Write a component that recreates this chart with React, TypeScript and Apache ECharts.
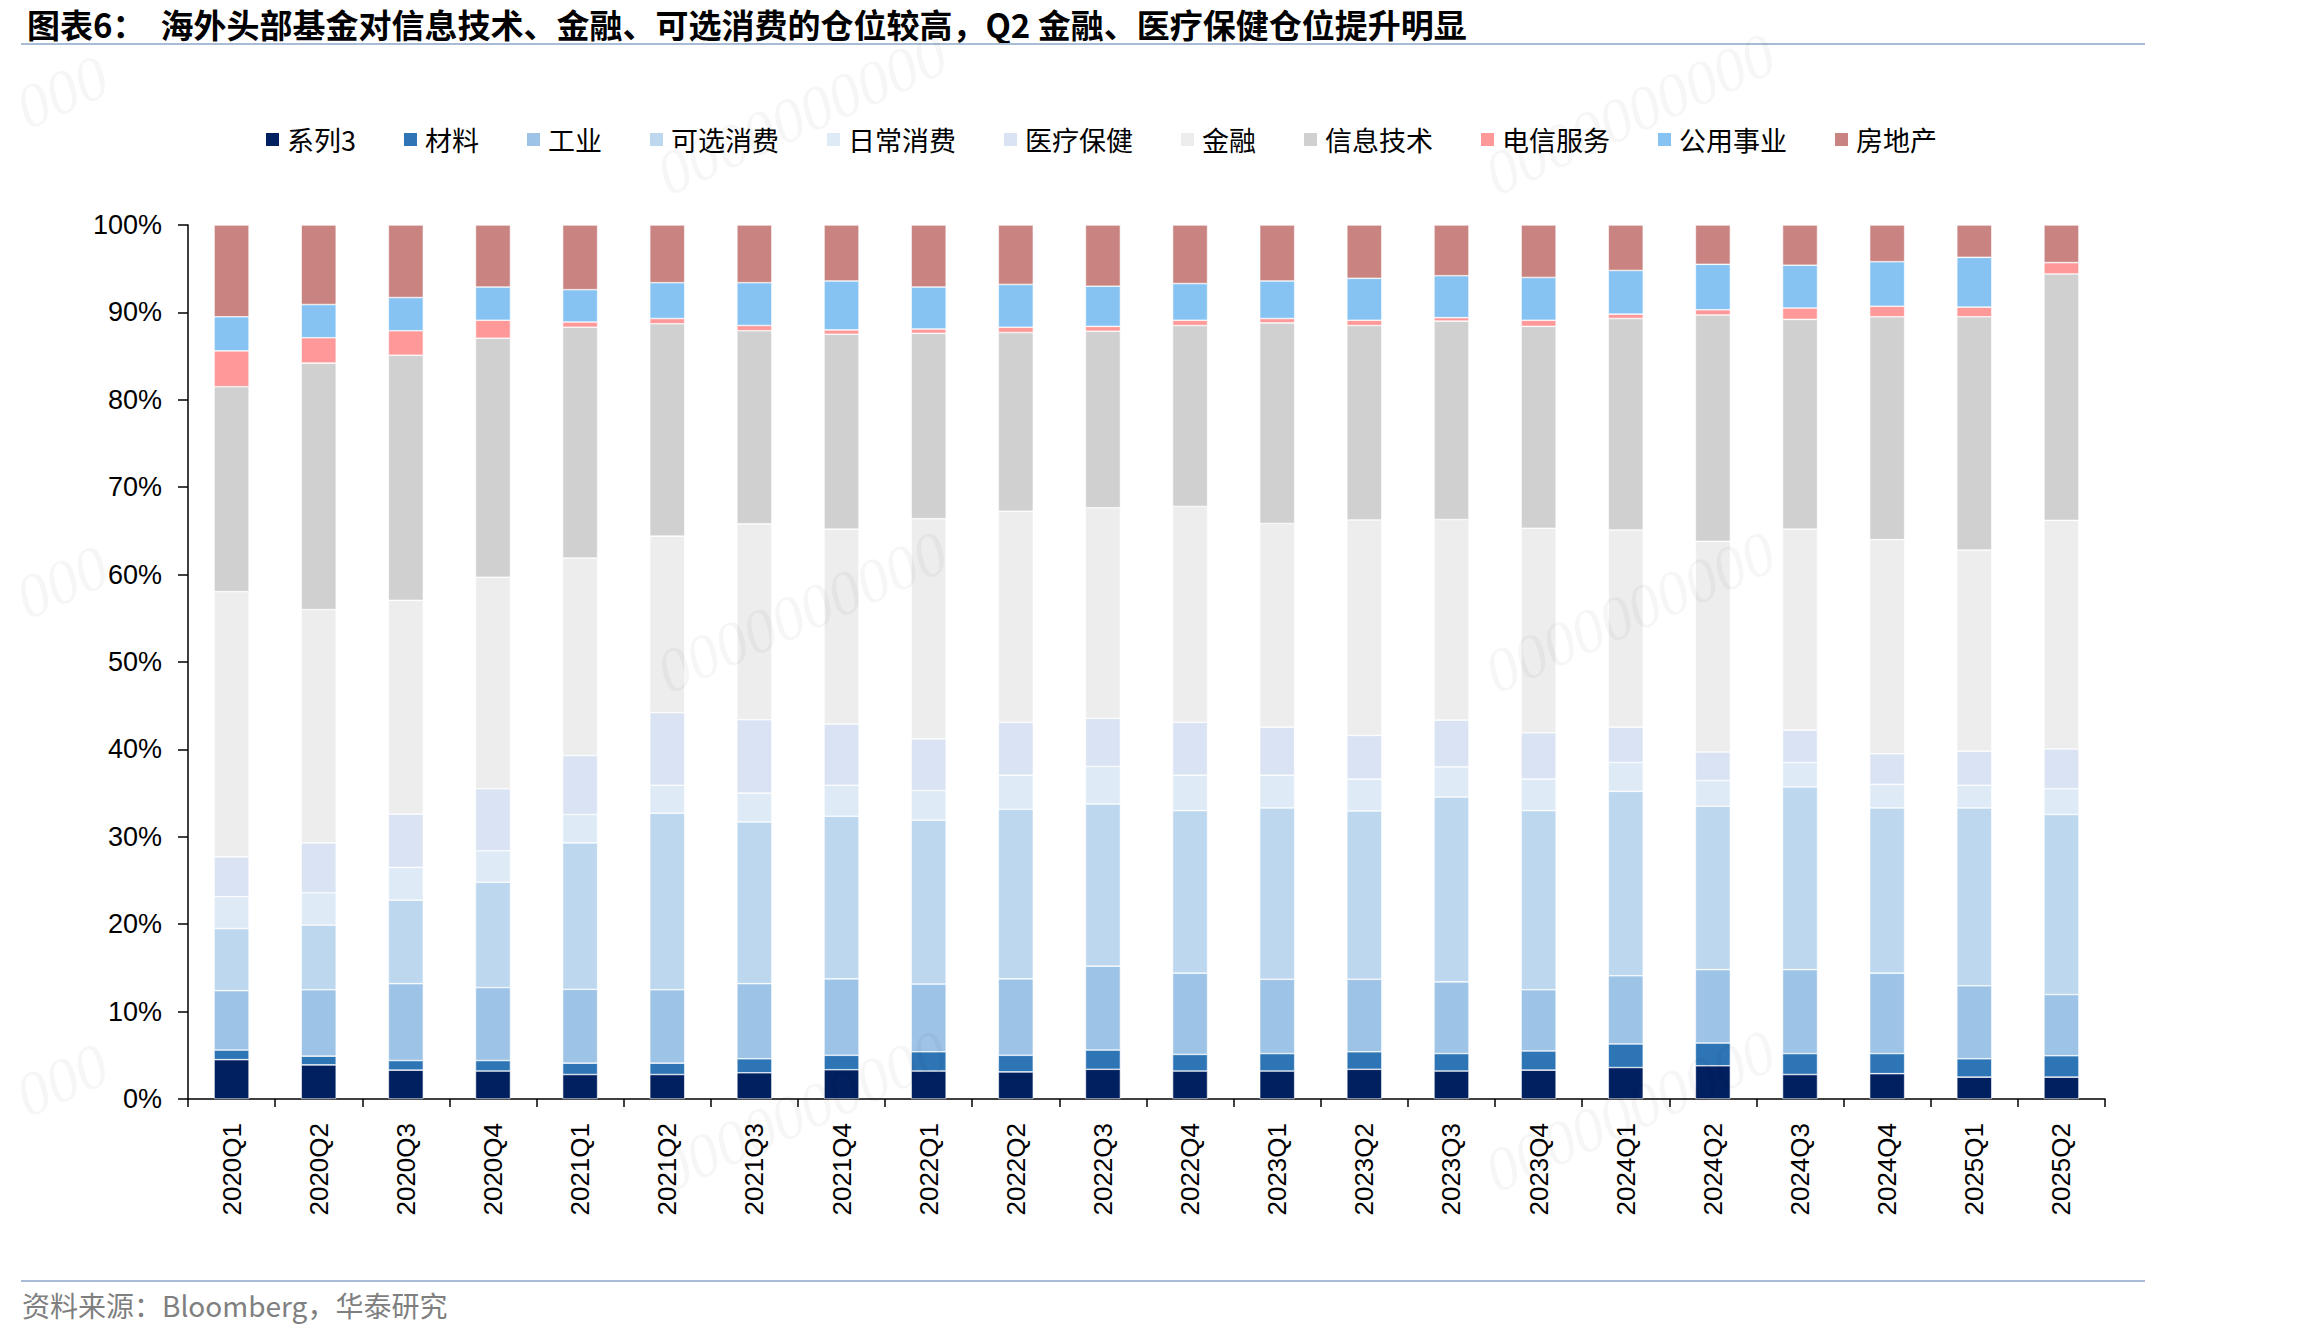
import React, { useEffect, useRef } from "react";
import * as echarts from "echarts";

const categories = [
  "2020Q1", "2020Q2", "2020Q3", "2020Q4", "2021Q1", "2021Q2", "2021Q3", "2021Q4",
  "2022Q1", "2022Q2", "2022Q3", "2022Q4", "2023Q1", "2023Q2", "2023Q3", "2023Q4",
  "2024Q1", "2024Q2", "2024Q3", "2024Q4", "2025Q1", "2025Q2",
];

const seriesNames = ["系列3", "材料", "工业", "可选消费", "日常消费", "医疗保健", "金融", "信息技术", "电信服务", "公用事业", "房地产"];

const s3 = [4.5, 3.9, 3.3, 3.2, 2.8, 2.8, 3.0, 3.35, 3.2, 3.1, 3.4, 3.2, 3.2, 3.4, 3.2, 3.3, 3.6, 3.8, 2.8, 2.9, 2.5, 2.5];
const materials = [1.1, 1.0, 1.1, 1.2, 1.3, 1.3, 1.6, 1.65, 2.2, 1.9, 2.2, 1.9, 2.0, 2.0, 2.0, 2.2, 2.7, 2.6, 2.4, 2.3, 2.1, 2.45];
const industrials = [6.8, 7.6, 8.8, 8.35, 8.45, 8.4, 8.6, 8.75, 7.75, 8.75, 9.6, 9.3, 8.5, 8.3, 8.2, 7.0, 7.8, 8.4, 9.6, 9.2, 8.35, 7.0];
const consDisc = [7.1, 7.4, 9.55, 12.05, 16.75, 20.2, 18.5, 18.6, 18.75, 19.4, 18.55, 18.6, 19.6, 19.25, 21.15, 20.5, 21.1, 18.7, 20.9, 18.9, 20.35, 20.6];
const consStaples = [3.65, 3.7, 3.75, 3.6, 3.25, 3.2, 3.3, 3.55, 3.4, 3.9, 4.3, 4.05, 3.75, 3.65, 3.45, 3.6, 3.3, 2.95, 2.8, 2.7, 2.6, 2.95];
const healthcare = [4.55, 5.7, 6.1, 7.1, 6.75, 8.3, 8.4, 7.0, 5.9, 6.05, 5.5, 6.05, 5.5, 5.0, 5.35, 5.3, 4.05, 3.25, 3.7, 3.5, 3.9, 4.55];
const financials = [30.35, 26.7, 24.45, 24.2, 22.6, 20.2, 22.4, 22.3, 25.2, 24.15, 24.1, 24.7, 23.3, 24.65, 22.95, 23.4, 22.55, 24.1, 23.0, 24.5, 23.0, 26.15];
const infoTech = [23.45, 28.2, 28.05, 27.35, 26.4, 24.3, 22.1, 22.3, 21.2, 20.45, 20.2, 20.7, 22.95, 22.25, 22.7, 23.1, 24.2, 25.9, 24.0, 25.5, 26.7, 28.2];
const telecom = [4.1, 2.9, 2.8, 2.05, 0.6, 0.6, 0.6, 0.5, 0.5, 0.6, 0.55, 0.6, 0.5, 0.6, 0.4, 0.7, 0.5, 0.6, 1.3, 1.2, 1.1, 1.3];
const utilities = [3.9, 3.8, 3.8, 3.8, 3.7, 4.1, 4.9, 5.6, 4.8, 4.9, 4.6, 4.2, 4.3, 4.8, 4.8, 4.9, 5.0, 5.2, 4.9, 5.1, 5.7, 0];
const realEstate = [10.5, 9.1, 8.3, 7.1, 7.4, 6.6, 6.6, 6.4, 7.1, 6.8, 7.0, 6.7, 6.4, 6.1, 5.8, 6.0, 5.2, 4.5, 4.6, 4.2, 3.7, 4.3];

const seriesData = [s3, materials, industrials, consDisc, consStaples, healthcare, financials, infoTech, telecom, utilities, realEstate];
const colors = ["#002060", "#2E75B6", "#9DC3E6", "#BDD7EE", "#DEEBF7", "#DAE3F3", "#EDEDED", "#D0D0D0", "#FF9999", "#86C3F3", "#C98482"];

const yTicks = [0, 10, 20, 30, 40, 50, 60, 70, 80, 90, 100];

const titleText = "图表6：  海外头部基金对信息技术、金融、可选消费的仓位较高，Q2 金融、医疗保健仓位提升明显";
const sourceText = "资料来源：Bloomberg，华泰研究";

const watermarkFull = [
  [802, 114], [1630, 114],
  [802, 612], [1630, 612],
  [802, 1111], [1630, 1111],
];
const watermarkEdge = [
  [62, 92], [62, 582], [62, 1080],
];

export default function App() {
  const ref = useRef<HTMLDivElement>(null);

  useEffect(() => {
    document.body.style.margin = "0";
    document.body.style.overflow = "hidden";
    const chart = echarts.init(ref.current!, null, { renderer: "svg" });

    const mk = (x: number, y: number, text: string) => ({
      type: "text",
      x,
      y,
      rotation: 0.42,
      z: 100,
      silent: true,
      style: {
        text,
        font: "italic 62px 'Liberation Serif', serif",
        fill: "rgba(0,0,0,0.035)",
        align: "center",
        verticalAlign: "middle",
      },
    });
    const watermarks = [
      ...watermarkFull.map(([x, y]) => mk(x, y, "0000000000")),
      ...watermarkEdge.map(([x, y]) => mk(x, y, "000")),
    ];

    chart.setOption({
      animation: false,
      backgroundColor: "#ffffff",
      textStyle: { fontFamily: "'Liberation Sans', Arial, sans-serif" },
      color: colors,
      legend: {
        data: seriesNames,
        left: 259,
        top: 121,
        itemWidth: 15,
        itemHeight: 15,
        itemGap: 46,
        icon: "rect",
        textStyle: {
          fontFamily: "'Noto Sans CJK SC', 'Liberation Sans', sans-serif",
          fontSize: 27,
          color: "#000",
          padding: [0, 0, 0, 2],
        },
      },
      grid: { left: 188, right: 193, top: 225, bottom: 238, containLabel: false },
      xAxis: {
        type: "category",
        data: categories,
        boundaryGap: true,
        axisLine: { lineStyle: { color: "#000", width: 1.5 } },
        axisTick: { show: true, alignWithLabel: false, length: 8, lineStyle: { color: "#000", width: 1.5 } },
        axisLabel: {
          rotate: 90,
          fontSize: 26,
          color: "#000",
          margin: 24,
          interval: 0,
          fontFamily: "'Liberation Sans', Arial, sans-serif",
        },
      },
      yAxis: {
        type: "value",
        min: yTicks[0],
        max: yTicks[yTicks.length - 1],
        interval: 10,
        axisLine: { show: true, lineStyle: { color: "#000", width: 1.5 } },
        axisTick: { show: true, length: 10, lineStyle: { color: "#000", width: 1.5 } },
        splitLine: { show: false },
        axisLabel: {
          formatter: "{value}%",
          fontSize: 27,
          color: "#000",
          margin: 26,
          fontFamily: "'Liberation Sans', Arial, sans-serif",
        },
      },
      series: seriesNames.map((name, i) => ({
        name,
        type: "bar",
        stack: "total",
        barWidth: 35,
        data: seriesData[i],
        itemStyle: { color: colors[i], borderColor: "#ffffff", borderWidth: 0.6 },
      })),
      graphic: [
        {
          type: "text",
          x: 27,
          y: 24,
          style: {
            text: titleText,
            font: "bold 33px 'Noto Sans CJK SC', sans-serif",
            fill: "#000",
            verticalAlign: "middle",
          },
        },
        {
          type: "line",
          shape: { x1: 21, y1: 44, x2: 2145, y2: 44 },
          style: { stroke: "#A9BCD5", lineWidth: 2 },
        },
        {
          type: "line",
          shape: { x1: 21, y1: 1281, x2: 2145, y2: 1281 },
          style: { stroke: "#A9BCD5", lineWidth: 2 },
        },
        {
          type: "text",
          x: 22,
          y: 1305,
          style: {
            text: sourceText,
            font: "28px 'Noto Sans CJK SC', 'Liberation Sans', sans-serif",
            fill: "#7F7F7F",
            verticalAlign: "middle",
          },
        },
        ...watermarks,
      ],
    });

    return () => chart.dispose();
  }, []);

  return <div ref={ref} style={{ width: 2298, height: 1337 }} />;
}
